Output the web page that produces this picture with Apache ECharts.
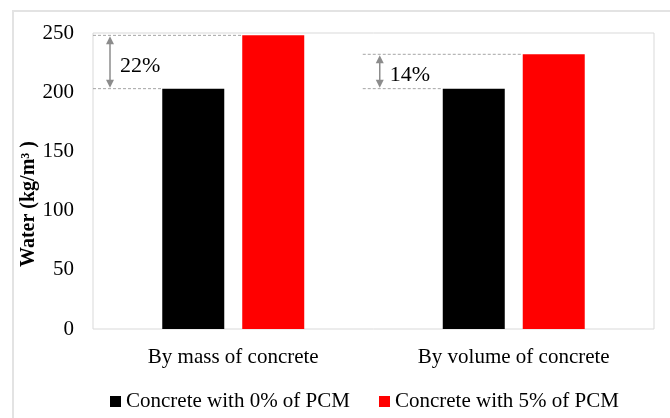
<!DOCTYPE html>
<html>
<head>
<meta charset="utf-8">
<script src="https://cdn.jsdelivr.net/npm/echarts@6/dist/echarts.min.js"></script>
<style>
html,body{margin:0;padding:0;background:#fff;}
#chart{width:670px;height:418px;}
</style>
</head>
<body>
<div id="chart"></div>
<script>
var categories = ['By mass of concrete', 'By volume of concrete'];
var seriesNames = ['Concrete with 0% of PCM', 'Concrete with 5% of PCM'];
var pcm0 = [203, 203];
var pcm5 = [248, 232];
var increaseLabels = ['22%', '14%'];
var yMin = 0, yMax = 250, yStep = 50;

var font = 'Liberation Serif';
var grayLine = '#a6a6a6';
var arrowColor = '#8c8c8c';

var myChart = echarts.init(document.getElementById('chart'));
var option = {
	animation: false,
	textStyle: { fontFamily: font },
	grid: {
		left: 93, right: 16, top: 33, bottom: 89,
		show: true,
		borderColor: '#d9d9d9',
		borderWidth: 1
	},
	legend: {
		data: seriesNames,
		left: 105,
		top: 386,
		icon: 'rect',
		itemWidth: 11,
		itemHeight: 11,
		itemGap: 29,
		textStyle: { fontSize: 21, color: '#000', fontFamily: font }
	},
	xAxis: {
		type: 'category',
		data: categories,
		axisLine: { show: false },
		axisTick: { show: false },
		axisLabel: { fontSize: 21, color: '#000', margin: 18, fontFamily: font }
	},
	yAxis: {
		type: 'value',
		min: yMin,
		max: yMax,
		interval: yStep,
		axisLine: { show: false },
		axisTick: { show: false },
		splitLine: { show: false },
		axisLabel: { fontSize: 21, color: '#000', margin: 19, fontFamily: font }
	},
	series: [{
		name: seriesNames[0],
		type: 'bar',
		data: pcm0,
		barWidth: 62,
		barGap: '29%',
		itemStyle: { color: '#000000' }
	}, {
		name: seriesNames[1],
		type: 'bar',
		data: pcm5,
		barWidth: 62,
		itemStyle: { color: '#ff0000' }
	}]
};
myChart.setOption(option);

// annotations: dashed reference lines + double arrow + percent label
var rect = myChart.getModel().getComponent('grid').coordinateSystem.getRect();
var data0 = myChart.getModel().getSeriesByIndex(0).getData();
var data1 = myChart.getModel().getSeriesByIndex(1).getData();
var els = [];

// outer frame of the figure
els.push({
	type: 'rect', z: -10,
	shape: { x: 13, y: 11, width: 700, height: 450 },
	style: { fill: 'none', stroke: '#e3e3e3', lineWidth: 2 }
});

// y axis title
els.push({
	type: 'text',
	x: 29, y: 204,
	rotation: Math.PI / 2,
	style: {
		text: 'Water (kg/m³ )',
		font: 'bold 20px "Liberation Serif"',
		fill: '#000',
		align: 'center',
		verticalAlign: 'middle'
	}
});

for (var i = 0; i < categories.length; i++) {
	var b0 = data0.getItemLayout(i);
	var b1 = data1.getItemLayout(i);
	var yLow = myChart.convertToPixel({ yAxisIndex: 0 }, pcm0[i]);
	var yHigh = myChart.convertToPixel({ yAxisIndex: 0 }, pcm5[i]);
	var startX = Math.max(rect.x, b0.x - 80);
	var ax = startX + 17;
	els.push({
		type: 'line',
		shape: { x1: startX, y1: yHigh, x2: b1.x, y2: yHigh },
		style: { stroke: grayLine, lineWidth: 1, lineDash: [3, 2] }
	});
	els.push({
		type: 'line',
		shape: { x1: startX, y1: yLow, x2: b0.x, y2: yLow },
		style: { stroke: grayLine, lineWidth: 1, lineDash: [3, 2] }
	});
	els.push({
		type: 'line',
		shape: { x1: ax, y1: yHigh + 4, x2: ax, y2: yLow - 4 },
		style: { stroke: arrowColor, lineWidth: 1.5 }
	});
	els.push({
		type: 'polygon',
		shape: { points: [[ax, yHigh + 1], [ax - 4, yHigh + 9], [ax + 4, yHigh + 9]] },
		style: { fill: arrowColor }
	});
	els.push({
		type: 'polygon',
		shape: { points: [[ax, yLow - 1], [ax - 4, yLow - 9], [ax + 4, yLow - 9]] },
		style: { fill: arrowColor }
	});
	els.push({
		type: 'text',
		x: ax + 10,
		y: (yHigh + yLow) / 2 + 4,
		style: {
			text: increaseLabels[i],
			font: '22px "Liberation Serif"',
			fill: '#000',
			align: 'left',
			verticalAlign: 'middle'
		}
	});
}
myChart.setOption({ graphic: { elements: els } });
</script>
</body>
</html>
